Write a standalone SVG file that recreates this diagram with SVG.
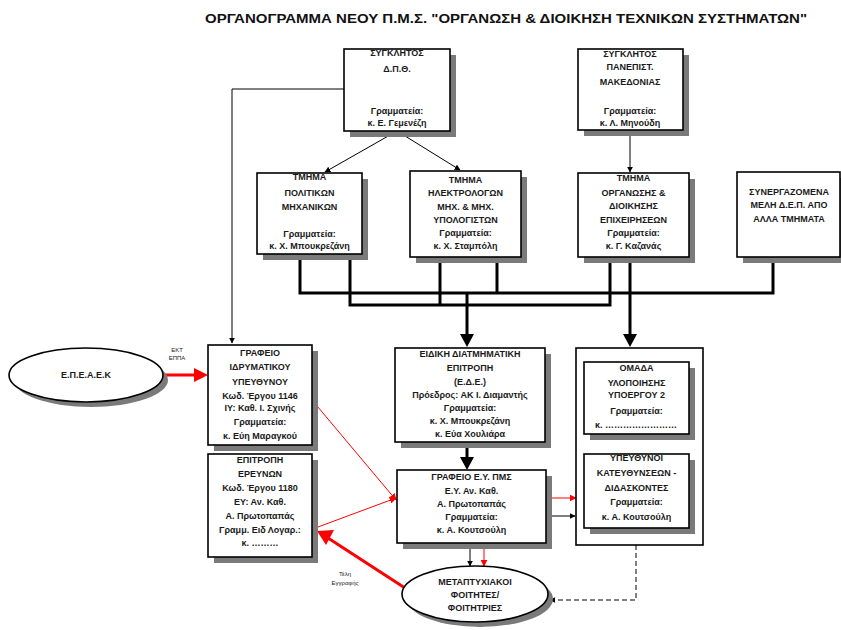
<svg xmlns="http://www.w3.org/2000/svg" width="841" height="630" viewBox="0 0 841 630">
<style>
.bg{fill:#fff}
.sh{fill:#7a7a7a}
.bx{fill:#fff;stroke:#000;stroke-width:1.6}
.t{font-family:"Liberation Sans",Arial,sans-serif;font-size:9px;font-weight:bold;fill:#1a1a1a;text-anchor:middle}
.s{font-family:"Liberation Sans",Arial,sans-serif;font-size:6px;fill:#222;text-anchor:middle}
.ttl{font-family:"Liberation Sans",Arial,sans-serif;font-size:12px;font-weight:bold;fill:#111;text-anchor:middle}
.thin{fill:none;stroke:#000;stroke-width:1}
.thick{fill:none;stroke:#000;stroke-width:3}
.red{fill:none;stroke:#f00;stroke-width:1}
.redth{fill:none;stroke:#f00;stroke-width:3}
.dash{fill:none;stroke:#000;stroke-width:1;stroke-dasharray:5,3}
</style>
<defs>
<marker id="ab" viewBox="0 0 10 10" refX="9" refY="5" markerWidth="6" markerHeight="6" orient="auto-start-reverse" markerUnits="userSpaceOnUse"><path d="M0,0L10,5L0,10z" fill="#000"/></marker>
<marker id="ar" viewBox="0 0 10 10" refX="9" refY="5" markerWidth="7" markerHeight="7" orient="auto" markerUnits="userSpaceOnUse"><path d="M0,0L10,5L0,10z" fill="#f00"/></marker>
</defs>
<rect class="bg" x="0" y="0" width="841" height="630"/>
<text class="ttl" x="506" y="23" textLength="602" lengthAdjust="spacingAndGlyphs">ΟΡΓΑΝΟΓΡΑΜΜΑ ΝΕΟΥ Π.Μ.Σ. "ΟΡΓΑΝΩΣΗ &amp; ΔΙΟΙΚΗΣΗ ΤΕΧΝΙΚΩΝ ΣΥΣΤΗΜΑΤΩΝ"</text>

<g id="connectors">
<path class="thin" d="M344,89H232V343" marker-end="url(#ab)"/>
<path class="thin" d="M397,131L325,172" marker-end="url(#ab)"/>
<path class="thin" d="M397,131L460,170" marker-end="url(#ab)"/>
<path class="thin" d="M630,130V172" marker-end="url(#ab)"/>
<path class="thick" d="M300,254V293H773V257"/>
<path class="thick" d="M497,257V293"/>
<path class="thick" d="M350,254V305H610V257"/>
<path class="thick" d="M440,257V305"/>
<path class="thick" d="M630,257V293"/>
<path class="thick" d="M467,293V335"/>
<path d="M460,334L474,334L467,347z" fill="#000"/>
<path class="thick" d="M630,293V335"/>
<path d="M623,334L637,334L630,347z" fill="#000"/>
<path class="thick" d="M467,442V458"/>
<path d="M460,457L474,457L467,470z" fill="#000"/>
<path class="redth" d="M163,375H196"/>
<path d="M194,368L208,375L194,382z" fill="#f00"/>
<path class="red" d="M312,400L396,500" marker-end="url(#ar)"/>
<path class="red" d="M318,527L396,498" marker-end="url(#ar)"/>
<path class="red" d="M546,498H576" marker-end="url(#ar)"/>
<path class="thin" d="M547,516H575" marker-start="url(#ab)" marker-end="url(#ab)"/>
<path class="thin" d="M470,544V566" marker-start="url(#ab)" marker-end="url(#ab)"/>
<path class="red" d="M484,543V566" marker-end="url(#ar)"/>
<path class="redth" d="M405,588L328,538"/>
<path d="M334,530L317,531L326,545z" fill="#f00"/>
<path class="dash" d="M636,545V600H550" marker-end="url(#ab)"/>
<text class="s" x="177" y="352">ΕΚΤ</text>
<text class="s" x="177" y="360">ΕΠΠΑ</text>
<text class="s" x="345" y="576">Τέλη</text>
<text class="s" x="345" y="585">Εγγραφής</text>
</g>

<g id="n-dpth">
<rect class="sh" x="350" y="55" width="106" height="82"/>
<rect class="bx" x="344" y="49" width="106" height="82"/>
<text class="t" x="397" y="56">ΣΥΓΚΛΗΤΟΣ</text>
<text class="t" x="397" y="72">Δ.Π.Θ.</text>
<text class="t" x="397" y="114">Γραμματεία:</text>
<text class="t" x="397" y="126">κ. Ε. Γεμενέζη</text>
</g>

<g id="n-makedonias">
<rect class="sh" x="584" y="55" width="105" height="81"/>
<rect class="bx" x="578" y="49" width="105" height="81"/>
<text class="t" x="630" y="57">ΣΥΓΚΛΗΤΟΣ</text>
<text class="t" x="630" y="70">ΠΑΝΕΠΙΣΤ.</text>
<text class="t" x="630" y="85">ΜΑΚΕΔΟΝΙΑΣ</text>
<text class="t" x="630" y="114">Γραμματεία:</text>
<text class="t" x="630" y="126">κ. Λ. Μηνούδη</text>
</g>

<g id="n-politikon">
<rect class="sh" x="263" y="179" width="105" height="81"/>
<rect class="bx" x="257" y="173" width="105" height="81"/>
<text class="t" x="309.5" y="180">ΤΜΗΜΑ</text>
<text class="t" x="309.5" y="196">ΠΟΛΙΤΙΚΩΝ</text>
<text class="t" x="309.5" y="210">ΜΗΧΑΝΙΚΩΝ</text>
<text class="t" x="309.5" y="237">Γραμματεία:</text>
<text class="t" x="309.5" y="249">κ. Χ. Μπουκρεζάνη</text>
</g>

<g id="n-ilektrologon">
<rect class="sh" x="416" y="177" width="111" height="86"/>
<rect class="bx" x="410" y="171" width="111" height="86"/>
<text class="t" x="465.5" y="183">ΤΜΗΜΑ</text>
<text class="t" x="465.5" y="196">ΗΛΕΚΤΡΟΛΟΓΩΝ</text>
<text class="t" x="465.5" y="210">ΜΗΧ. &amp; ΜΗΧ.</text>
<text class="t" x="465.5" y="223">ΥΠΟΛΟΓΙΣΤΩΝ</text>
<text class="t" x="465.5" y="236">Γραμματεία:</text>
<text class="t" x="465.5" y="249">κ. Χ. Σταμπόλη</text>
</g>

<g id="n-organosis">
<rect class="sh" x="584" y="179" width="111" height="84"/>
<rect class="bx" x="578" y="173" width="111" height="84"/>
<text class="t" x="633.5" y="181">ΤΜΗΜΑ</text>
<text class="t" x="633.5" y="196">ΟΡΓΑΝΩΣΗΣ &amp;</text>
<text class="t" x="633.5" y="209">ΔΙΟΙΚΗΣΗΣ</text>
<text class="t" x="633.5" y="223">ΕΠΙΧΕΙΡΗΣΕΩΝ</text>
<text class="t" x="633.5" y="236">Γραμματεία:</text>
<text class="t" x="633.5" y="249">κ. Γ. Καζανάς</text>
</g>

<g id="n-synergazomena">
<rect class="sh" x="743" y="178" width="103" height="85"/>
<rect class="bx" x="737" y="172" width="103" height="85"/>
<text class="t" x="789" y="195">ΣΥΝΕΡΓΑΖΟΜΕΝΑ</text>
<text class="t" x="789" y="208">ΜΕΛΗ Δ.Ε.Π.  ΑΠΟ</text>
<text class="t" x="789" y="222">ΑΛΛΑ ΤΜΗΜΑΤΑ</text>
</g>

<g id="n-epeaek">
<ellipse class="sh" cx="91" cy="380" rx="77" ry="27"/>
<ellipse class="bx" cx="86" cy="375" rx="77" ry="27"/>
<text class="t" x="86" y="378">Ε.Π.Ε.Α.Ε.Κ</text>
</g>

<g id="n-idrymatikou">
<rect class="sh" x="214" y="351" width="104" height="100"/>
<rect class="bx" x="208" y="345" width="104" height="100"/>
<text class="t" x="260" y="356">ΓΡΑΦΕΙΟ</text>
<text class="t" x="260" y="370">ΙΔΡΥΜΑΤΙΚΟΥ</text>
<text class="t" x="260" y="385">ΥΠΕΥΘΥΝΟΥ</text>
<text class="t" x="260" y="399">Κωδ. Έργου 1146</text>
<text class="t" x="260" y="411">ΙΥ: Καθ. Ι. Σχινής</text>
<text class="t" x="260" y="425">Γραμματεία:</text>
<text class="t" x="260" y="439">κ. Εύη Μαραγκού</text>
</g>

<g id="n-ereynon">
<rect class="sh" x="214" y="460" width="104" height="103"/>
<rect class="bx" x="208" y="454" width="104" height="103"/>
<text class="t" x="260" y="463">ΕΠΙΤΡΟΠΗ</text>
<text class="t" x="260" y="477">ΕΡΕΥΝΩΝ</text>
<text class="t" x="260" y="491">Κωδ. Έργου 1180</text>
<text class="t" x="260" y="505">ΕΥ: Αν. Καθ.</text>
<text class="t" x="260" y="519">Α. Πρωτοπαπάς</text>
<text class="t" x="260" y="533">Γραμμ. Ειδ Λογαρ.:</text>
<text class="t" x="260" y="546">κ. ………</text>
</g>

<g id="n-ede">
<rect class="sh" x="401" y="354" width="150" height="94"/>
<rect class="bx" x="395" y="348" width="150" height="94"/>
<text class="t" x="470" y="357">ΕΙΔΙΚΗ ΔΙΑΤΜΗΜΑΤΙΚΗ</text>
<text class="t" x="470" y="371">ΕΠΙΤΡΟΠΗ</text>
<text class="t" x="470" y="385">(Ε.Δ.Ε.)</text>
<text class="t" x="470" y="398">Πρόεδρος: ΑΚ Ι. Διαμαντής</text>
<text class="t" x="470" y="411">Γραμματεία:</text>
<text class="t" x="470" y="424">κ. Χ. Μπουκρεζάνη</text>
<text class="t" x="470" y="437">κ. Εύα Χουλιάρα</text>
</g>

<g id="n-container">
<rect class="bx" x="576" y="348" width="127" height="197"/>
</g>

<g id="n-omada">
<rect class="sh" x="590" y="368" width="105" height="72"/>
<rect class="bx" x="584" y="362" width="105" height="72"/>
<text class="t" x="636.5" y="371">ΟΜΑΔΑ</text>
<text class="t" x="636.5" y="386">ΥΛΟΠΟΙΗΣΗΣ</text>
<text class="t" x="636.5" y="398">ΥΠΟΕΡΓΟΥ 2</text>
<text class="t" x="636.5" y="414">Γραμματεία:</text>
<text class="t" x="595" y="428" style="text-anchor:start">κ. ……………………</text>
</g>

<g id="n-ypeythynoi">
<rect class="sh" x="590" y="460" width="105" height="74"/>
<rect class="bx" x="584" y="454" width="105" height="74"/>
<text class="t" x="636.5" y="461">ΥΠΕΥΘΥΝΟΙ</text>
<text class="t" x="636.5" y="476">ΚΑΤΕΥΘΥΝΣΕΩΝ -</text>
<text class="t" x="636.5" y="491">ΔΙΔΑΣΚΟΝΤΕΣ</text>
<text class="t" x="636.5" y="505">Γραμματεία:</text>
<text class="t" x="636.5" y="520">κ. Α. Κουτσούλη</text>
</g>

<g id="n-grafeio-ey">
<rect class="sh" x="403" y="476" width="149" height="73"/>
<rect class="bx" x="397" y="470" width="149" height="73"/>
<text class="t" x="471.5" y="480">ΓΡΑΦΕΙΟ Ε.Υ. ΠΜΣ</text>
<text class="t" x="471.5" y="494">Ε.Υ. Αν. Καθ.</text>
<text class="t" x="471.5" y="507">Α. Πρωτοπαπάς</text>
<text class="t" x="471.5" y="520">Γραμματεία:</text>
<text class="t" x="471.5" y="533">κ. Α. Κουτσούλη</text>
</g>

<g id="n-foitites">
<ellipse class="sh" cx="480" cy="599" rx="73" ry="28"/>
<ellipse class="bx" cx="475" cy="594" rx="73" ry="28"/>
<text class="t" x="475" y="585">ΜΕΤΑΠΤΥΧΙΑΚΟΙ</text>
<text class="t" x="475" y="598">ΦΟΙΤΗΤΕΣ/</text>
<text class="t" x="475" y="611">ΦΟΙΤΗΤΡΙΕΣ</text>
</g>
</svg>
